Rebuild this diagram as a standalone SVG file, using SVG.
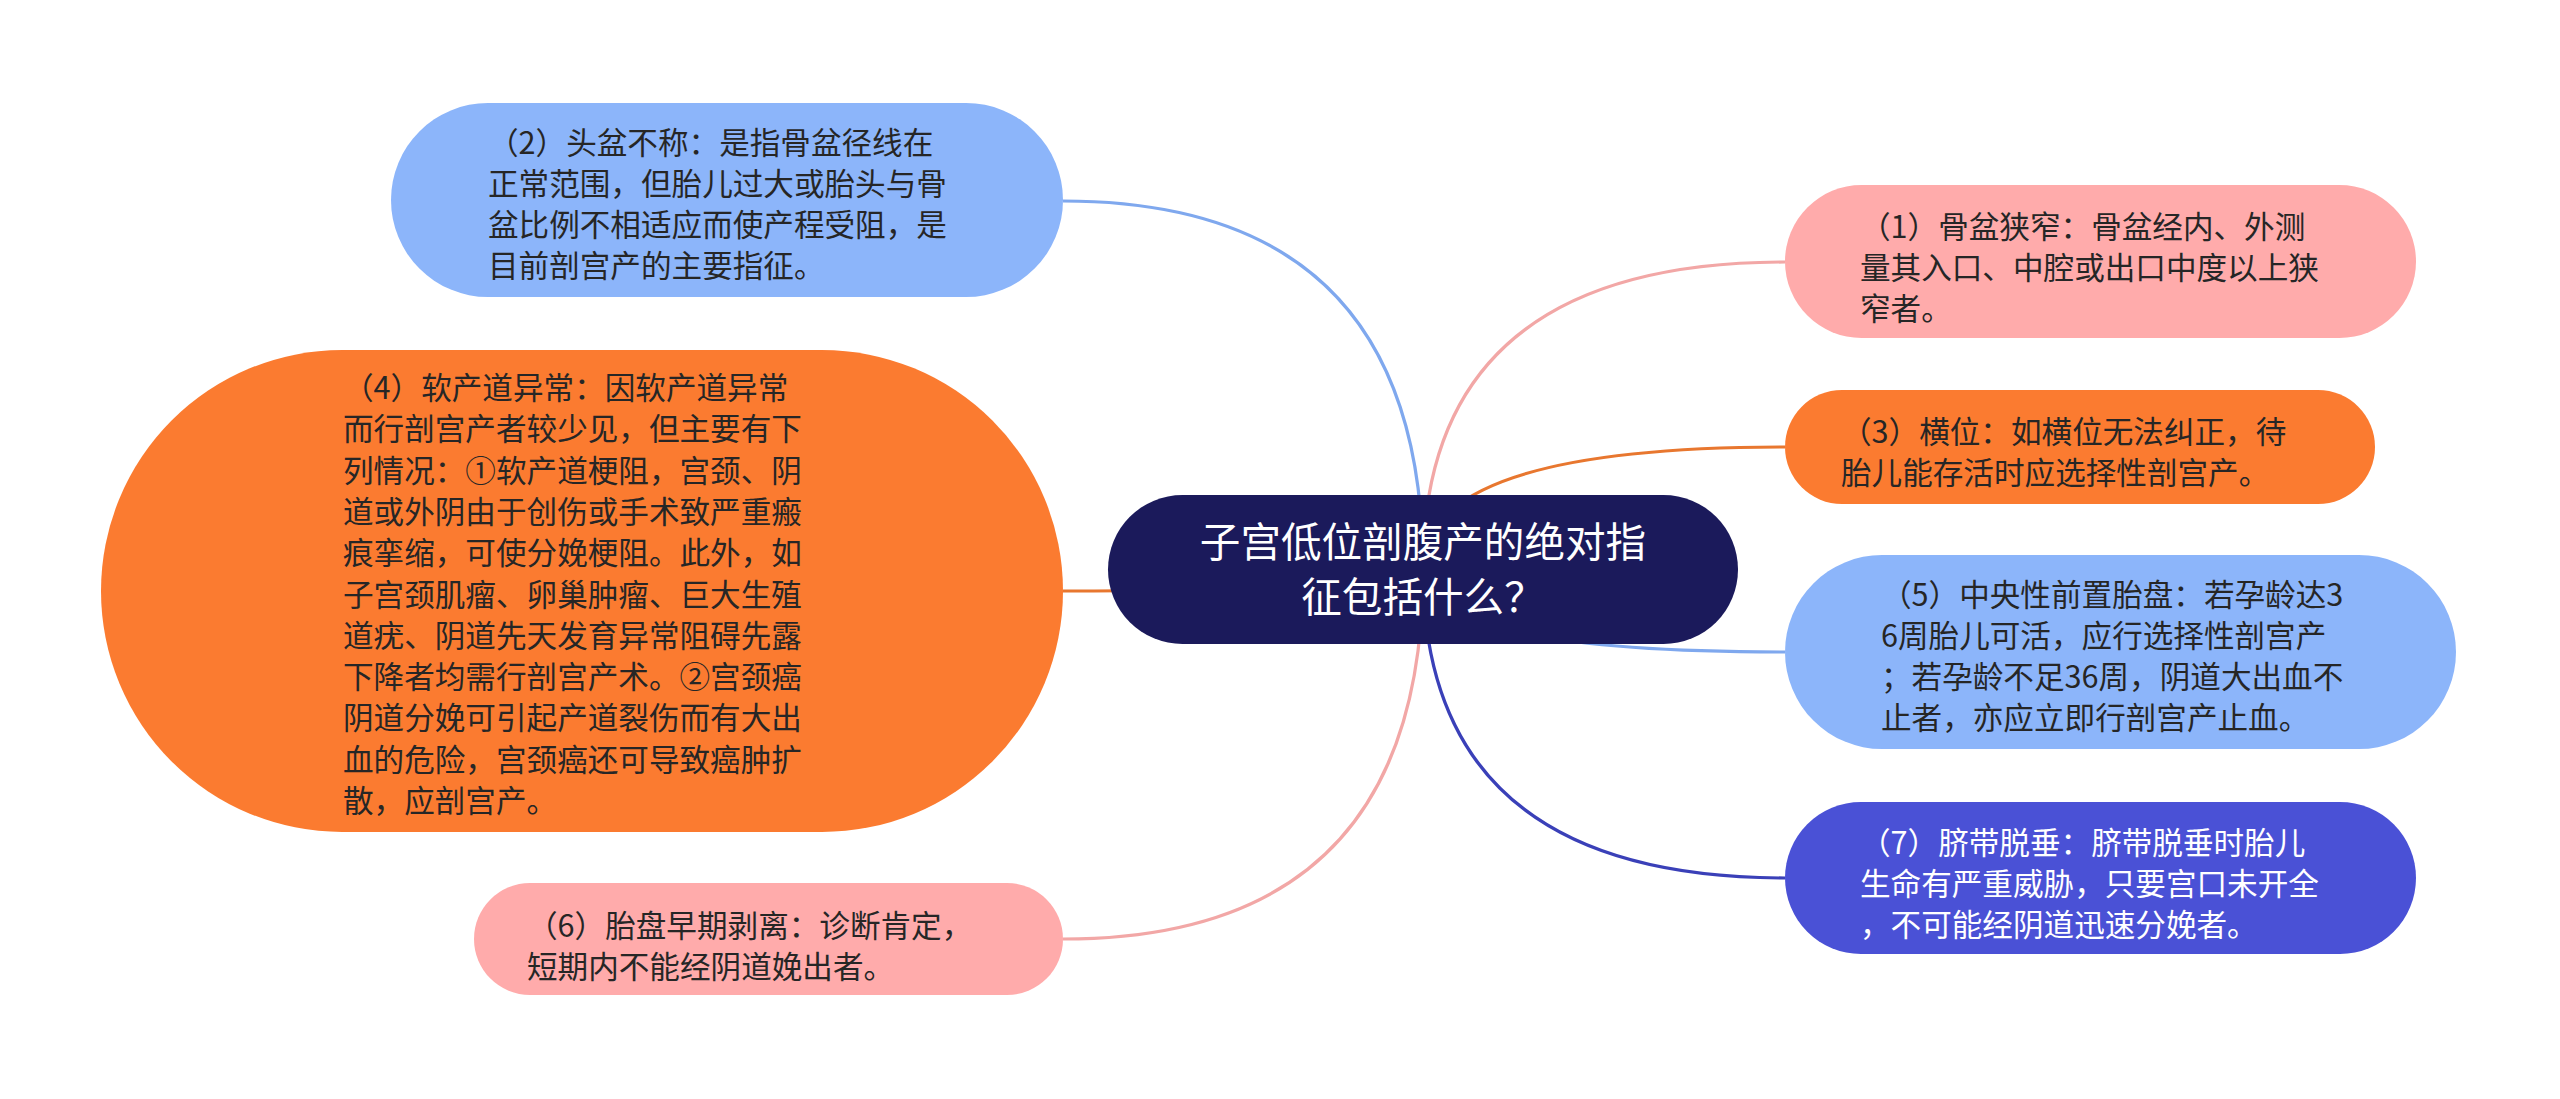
<svg xmlns="http://www.w3.org/2000/svg" width="2560" height="1099" viewBox="0 0 2560 1099">
<style>
text{font-family:"Noto Sans CJK SC","Noto Sans",sans-serif;font-size:30.6px;fill:#262626}
.root text{font-size:40.6px;fill:#ffffff;text-anchor:middle}
.light text{fill:#ffffff}
.c{fill:none;stroke-width:3.2}
</style>
<rect width="2560" height="1099" fill="#ffffff"/>
<g id="connectors">
<path class="c" stroke="#7fa8ee" d="M1423,569 Q1423,201 1063,201"/>
<path class="c" stroke="#f2a7a6" d="M1423,569 Q1423,262 1785,262"/>
<path class="c" stroke="#e8772f" d="M1423,569 Q1423,447 1785,447"/>
<path class="c" stroke="#e8772f" d="M1423,569 Q1423,591 1063,591"/>
<path class="c" stroke="#7fa8ee" d="M1423,569 Q1423,652 1785,652"/>
<path class="c" stroke="#3a40b8" d="M1423,569 Q1423,878 1785,878"/>
<path class="c" stroke="#f2a7a6" d="M1423,569 Q1423,939 1063,939"/>
</g>
<g id="root" class="root">
<rect x="1108" y="495" width="630" height="149" rx="74.5" fill="#1b1a5b"/>
<text x="1423" y="557">子宫低位剖腹产的绝对指</text>
<text x="1423" y="612">征包括什么？</text>
</g>
<g id="n2">
<rect x="391" y="103" width="672" height="194" rx="97" fill="#8cb5fa"/>
<text x="488" y="154">（2）头盆不称：是指骨盆径线在</text>
<text x="488" y="195">正常范围，但胎儿过大或胎头与骨</text>
<text x="488" y="236">盆比例不相适应而使产程受阻，是</text>
<text x="488" y="277">目前剖宫产的主要指征。</text>
</g>
<g id="n4">
<rect x="101" y="350" width="962" height="482" rx="241" fill="#fb7b30"/>
<text x="343" y="399">（4）软产道异常：因软产道异常</text>
<text x="343" y="440.3">而行剖宫产者较少见，但主要有下</text>
<text x="343" y="481.6">列情况：①软产道梗阻，宫颈、阴</text>
<text x="343" y="522.9">道或外阴由于创伤或手术致严重瘢</text>
<text x="343" y="564.2">痕挛缩，可使分娩梗阻。此外，如</text>
<text x="343" y="605.5">子宫颈肌瘤、卵巢肿瘤、巨大生殖</text>
<text x="343" y="646.8">道疣、阴道先天发育异常阻碍先露</text>
<text x="343" y="688.1">下降者均需行剖宫产术。②宫颈癌</text>
<text x="343" y="729.4">阴道分娩可引起产道裂伤而有大出</text>
<text x="343" y="770.7">血的危险，宫颈癌还可导致癌肿扩</text>
<text x="343" y="812">散，应剖宫产。</text>
</g>
<g id="n6">
<rect x="474" y="883" width="589" height="112" rx="56" fill="#ffabab"/>
<text x="527" y="937">（6）胎盘早期剥离：诊断肯定，</text>
<text x="527" y="978">短期内不能经阴道娩出者。</text>
</g>
<g id="n1">
<rect x="1785" y="185" width="631" height="153" rx="76.5" fill="#ffabab"/>
<text x="1860" y="238">（1）骨盆狭窄：骨盆经内、外测</text>
<text x="1860" y="279">量其入口、中腔或出口中度以上狭</text>
<text x="1860" y="320">窄者。</text>
</g>
<g id="n3">
<rect x="1785" y="390" width="590" height="114" rx="57" fill="#fb7b30"/>
<text x="1841" y="443">（3）横位：如横位无法纠正，待</text>
<text x="1841" y="484">胎儿能存活时应选择性剖宫产。</text>
</g>
<g id="n5">
<rect x="1785" y="555" width="671" height="194" rx="97" fill="#8cb5fa"/>
<text x="1881" y="606">（5）中央性前置胎盘：若孕龄达3</text>
<text x="1881" y="647">6周胎儿可活，应行选择性剖宫产</text>
<text x="1881" y="688">；若孕龄不足36周，阴道大出血不</text>
<text x="1881" y="729">止者，亦应立即行剖宫产止血。</text>
</g>
<g id="n7" class="light">
<rect x="1785" y="802" width="631" height="152" rx="76" fill="#4a51d6"/>
<text x="1860" y="854">（7）脐带脱垂：脐带脱垂时胎儿</text>
<text x="1860" y="895">生命有严重威胁，只要宫口未开全</text>
<text x="1860" y="936">，不可能经阴道迅速分娩者。</text>
</g>
</svg>
